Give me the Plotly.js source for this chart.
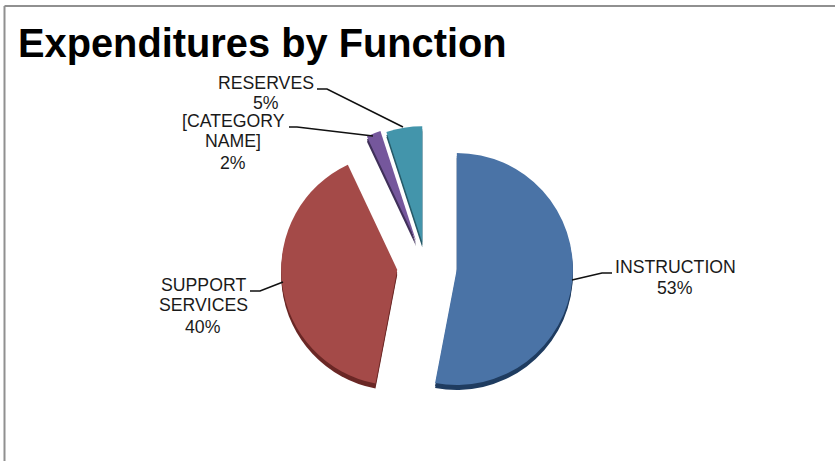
<!DOCTYPE html>
<html>
<head>
<meta charset="utf-8">
<script src="https://cdn.plot.ly/plotly-3.0.1.min.js"></script>
<style>html,body{margin:0;padding:0;background:#fff}#chart{width:835px;height:461px}</style>
</head>
<body>
<div id="chart"></div>
<script>
// Spending shares by function
const categories = ['INSTRUCTION', 'SUPPORT SERVICES', '[CATEGORY NAME]', 'RESERVES'];
const shares = [53, 40, 2, 5];
const sliceColors = ['#4a73a6', '#a44a48', '#75579c', '#4395ab'];
const edgeColors = ['#1f3c60', '#6a2725', '#40305a', '#265a68'];
const slicePull = [0.267, 0.25, 0.228, 0.207];
const labelLines = [['INSTRUCTION'], ['SUPPORT', 'SERVICES'], ['[CATEGORY', 'NAME]'], ['RESERVES']];

const W = 835, H = 461;
const px = x => x / W;
const py = y => 1 - y / H;

// Pie box in pixels, large enough that the biggest pull still leaves radius 116
const pieLeft = 279, pieRight = 573, pieTop = 119, pieBottom = 413;

function pie(colors, drop) {
  return {
    type: 'pie', values: shares, labels: categories, sort: false,
    direction: 'clockwise', rotation: 0, pull: slicePull,
    marker: {colors: colors, line: {width: 0}},
    textinfo: 'none', hoverinfo: 'skip', showlegend: false,
    domain: {x: [px(pieLeft), px(pieRight)], y: [py(pieBottom + drop), py(pieTop + drop)]}
  };
}

// Text anchor per label: centre x, then the y of each stacked line
const labelAnchors = [
  {x: 675, ys: [267, 288]},
  {x: 203, ys: [285, 305, 327]},
  {x: 233, ys: [121, 141, 163]},
  {x: 265.5, ys: [83, 103]}
];

const annotations = [];
categories.forEach((c, i) => {
  labelLines[i].concat(shares[i] + '%').forEach((t, j) => {
    annotations.push({
      xref: 'paper', yref: 'paper', x: px(labelAnchors[i].x), y: py(labelAnchors[i].ys[j]),
      xanchor: 'center', yanchor: 'middle', showarrow: false, text: t,
      font: {family: 'Liberation Sans, Arial, sans-serif', size: 17.7, color: '#1a1a1a'}
    });
  });
});

// Leader lines from the labels to their slices
const leaders = [
  [[612, 273], [602, 273], [572, 280]],
  [[250, 291], [260, 291], [283, 282]],
  [[289, 127], [297, 127], [373, 136]],
  [[317, 89], [327, 89], [403, 127]]
];
const shapes = leaders.map(pts => ({
  type: 'path', xref: 'paper', yref: 'paper',
  path: pts.map((p, k) => (k ? 'L' : 'M') + px(p[0]) + ',' + py(p[1])).join(' '),
  line: {color: '#111', width: 1.6}
}));

// Open frame along the top and left edges
shapes.push({type: 'line', xref: 'paper', yref: 'paper', x0: px(4.5), x1: 1, y0: py(6), y1: py(6), line: {color: '#909090', width: 2}});
shapes.push({type: 'line', xref: 'paper', yref: 'paper', x0: px(4.5), x1: px(4.5), y0: py(6), y1: 0, line: {color: '#909090', width: 2}});

const layout = {
  width: W, height: H,
  margin: {l: 0, r: 0, t: 0, b: 0},
  paper_bgcolor: '#fff',
  title: {
    text: '<b>Expenditures by Function</b>',
    x: px(18), xanchor: 'left', xref: 'paper',
    y: 1 - 43 / H, yref: 'container', yanchor: 'middle',
    font: {family: 'Liberation Sans, Arial, sans-serif', size: 39.8, color: '#000'}
  },
  annotations: annotations,
  shapes: shapes
};

Plotly.newPlot('chart', [pie(edgeColors, 5), pie(edgeColors, 3), pie(sliceColors, 0)], layout, {displayModeBar: false, staticPlot: true});
</script>
</body>
</html>
